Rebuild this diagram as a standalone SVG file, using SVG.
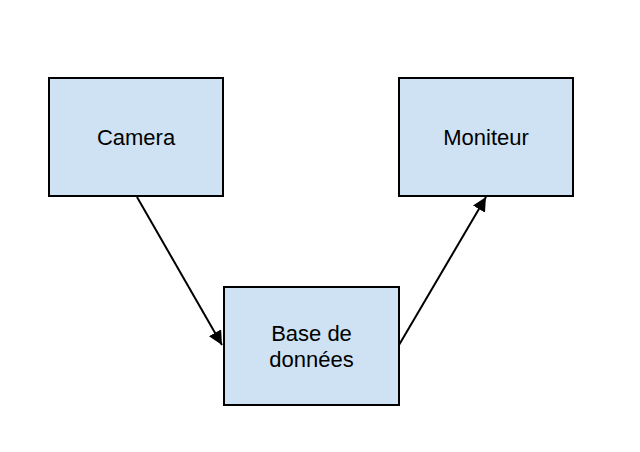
<svg xmlns="http://www.w3.org/2000/svg" width="640" height="452" viewBox="0 0 640 452">
<style>
.box{fill:#cfe2f3;stroke:#000;stroke-width:2}
.lbl{font-family:"Liberation Sans",Arial,sans-serif;font-size:22px;fill:#000;text-anchor:middle}
.edge{stroke:#000;stroke-width:2;fill:none}
</style>
<defs>
<marker id="ah" viewBox="0 0 10 10" refX="10" refY="5" markerWidth="7" markerHeight="7" markerUnits="strokeWidth" orient="auto">
<path d="M0,0 L10,5 L0,10 z" fill="#000"/>
</marker>
</defs>
<rect width="640" height="452" fill="#fff"/>
<g id="camera"><rect class="box" x="49" y="78" width="174" height="118"/><text class="lbl" x="136" y="145">Camera</text></g>
<g id="moniteur"><rect class="box" x="399" y="78" width="174" height="118"/><text class="lbl" x="486" y="145">Moniteur</text></g>
<g id="base"><rect class="box" x="224" y="287" width="175" height="118"/><text class="lbl" x="311.5" y="341">Base de</text><text class="lbl" x="311.5" y="367">données</text></g>
<g id="connectors">
<path class="edge" d="M137,197 L222,345" marker-end="url(#ah)"/>
<path class="edge" d="M399,345 L486,197" marker-end="url(#ah)"/>
</g>
</svg>
